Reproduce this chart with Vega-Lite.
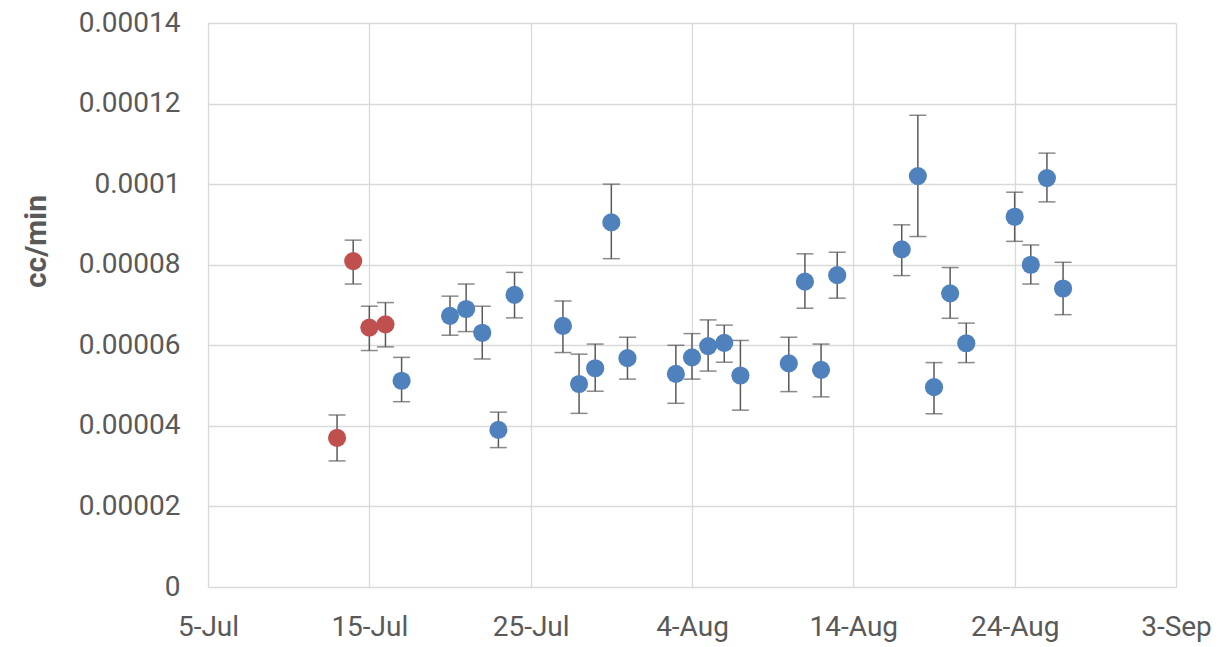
{
  "$schema": "https://vega.github.io/schema/vega-lite/v6.json",
  "width": 968,
  "height": 564,
  "autosize": "none",
  "padding": {"left": 208, "top": 23, "right": 45, "bottom": 60},
  "background": "white",
  "config": {
    "view": {"stroke": null},
    "font": "Roboto",
    "axis": {
      "labelFont": "Roboto",
      "labelFontSize": 28,
      "labelColor": "#595959",
      "gridColor": "#d9d9d9",
      "gridWidth": 1.3,
      "domain": false,
      "ticks": false
    }
  },
  "data": {
    "values": [
      {"date": "2023-07-13", "rate": 3.70e-5, "lo": 3.13e-5, "hi": 4.27e-5, "set": "A"},
      {"date": "2023-07-14", "rate": 8.09e-5, "lo": 7.52e-5, "hi": 8.61e-5, "set": "A"},
      {"date": "2023-07-15", "rate": 6.44e-5, "lo": 5.87e-5, "hi": 6.97e-5, "set": "A"},
      {"date": "2023-07-16", "rate": 6.52e-5, "lo": 5.96e-5, "hi": 7.06e-5, "set": "A"},
      {"date": "2023-07-17", "rate": 5.12e-5, "lo": 4.60e-5, "hi": 5.70e-5, "set": "B"},
      {"date": "2023-07-20", "rate": 6.73e-5, "lo": 6.25e-5, "hi": 7.22e-5, "set": "B"},
      {"date": "2023-07-21", "rate": 6.90e-5, "lo": 6.34e-5, "hi": 7.52e-5, "set": "B"},
      {"date": "2023-07-22", "rate": 6.31e-5, "lo": 5.66e-5, "hi": 6.97e-5, "set": "B"},
      {"date": "2023-07-23", "rate": 3.90e-5, "lo": 3.46e-5, "hi": 4.34e-5, "set": "B"},
      {"date": "2023-07-24", "rate": 7.25e-5, "lo": 6.68e-5, "hi": 7.81e-5, "set": "B"},
      {"date": "2023-07-27", "rate": 6.48e-5, "lo": 5.82e-5, "hi": 7.10e-5, "set": "B"},
      {"date": "2023-07-28", "rate": 5.04e-5, "lo": 4.31e-5, "hi": 5.78e-5, "set": "B"},
      {"date": "2023-07-29", "rate": 5.43e-5, "lo": 4.86e-5, "hi": 6.03e-5, "set": "B"},
      {"date": "2023-07-30", "rate": 9.05e-5, "lo": 8.15e-5, "hi": 10.00e-5, "set": "B"},
      {"date": "2023-07-31", "rate": 5.68e-5, "lo": 5.16e-5, "hi": 6.20e-5, "set": "B"},
      {"date": "2023-08-03", "rate": 5.29e-5, "lo": 4.56e-5, "hi": 6.00e-5, "set": "B"},
      {"date": "2023-08-04", "rate": 5.70e-5, "lo": 5.16e-5, "hi": 6.29e-5, "set": "B"},
      {"date": "2023-08-05", "rate": 5.98e-5, "lo": 5.36e-5, "hi": 6.63e-5, "set": "B"},
      {"date": "2023-08-06", "rate": 6.06e-5, "lo": 5.58e-5, "hi": 6.50e-5, "set": "B"},
      {"date": "2023-08-07", "rate": 5.25e-5, "lo": 4.39e-5, "hi": 6.12e-5, "set": "B"},
      {"date": "2023-08-10", "rate": 5.55e-5, "lo": 4.85e-5, "hi": 6.20e-5, "set": "B"},
      {"date": "2023-08-11", "rate": 7.58e-5, "lo": 6.92e-5, "hi": 8.27e-5, "set": "B"},
      {"date": "2023-08-12", "rate": 5.39e-5, "lo": 4.72e-5, "hi": 6.03e-5, "set": "B"},
      {"date": "2023-08-13", "rate": 7.74e-5, "lo": 7.17e-5, "hi": 8.31e-5, "set": "B"},
      {"date": "2023-08-17", "rate": 8.38e-5, "lo": 7.73e-5, "hi": 8.99e-5, "set": "B"},
      {"date": "2023-08-18", "rate": 10.20e-5, "lo": 8.70e-5, "hi": 11.71e-5, "set": "B"},
      {"date": "2023-08-19", "rate": 4.96e-5, "lo": 4.30e-5, "hi": 5.57e-5, "set": "B"},
      {"date": "2023-08-20", "rate": 7.29e-5, "lo": 6.67e-5, "hi": 7.93e-5, "set": "B"},
      {"date": "2023-08-21", "rate": 6.05e-5, "lo": 5.57e-5, "hi": 6.55e-5, "set": "B"},
      {"date": "2023-08-24", "rate": 9.19e-5, "lo": 8.58e-5, "hi": 9.80e-5, "set": "B"},
      {"date": "2023-08-25", "rate": 8.00e-5, "lo": 7.52e-5, "hi": 8.49e-5, "set": "B"},
      {"date": "2023-08-26", "rate": 10.15e-5, "lo": 9.56e-5, "hi": 10.77e-5, "set": "B"},
      {"date": "2023-08-27", "rate": 7.41e-5, "lo": 6.76e-5, "hi": 8.06e-5, "set": "B"}
    ]
  },
  "encoding": {
    "x": {
      "field": "date",
      "type": "temporal",
      "title": null,
      "scale": {
        "type": "utc",
        "domain": [
          {"year": 2023, "month": 7, "date": 5, "utc": true},
          {"year": 2023, "month": 9, "date": 3, "utc": true}
        ]
      },
      "axis": {
        "labelExpr": "utcFormat(datum.value, '%-d-%b')",
        "labelPadding": 26,
        "labelFlush": false,
        "labelOverlap": false,
        "values": [
          {"year": 2023, "month": 7, "date": 5, "utc": true},
          {"year": 2023, "month": 7, "date": 15, "utc": true},
          {"year": 2023, "month": 7, "date": 25, "utc": true},
          {"year": 2023, "month": 8, "date": 4, "utc": true},
          {"year": 2023, "month": 8, "date": 14, "utc": true},
          {"year": 2023, "month": 8, "date": 24, "utc": true},
          {"year": 2023, "month": 9, "date": 3, "utc": true}
        ]
      }
    }
  },
  "layer": [
    {
      "mark": {"type": "rule", "color": "#595959", "strokeWidth": 1.5},
      "encoding": {
        "y": {
          "field": "lo",
          "type": "quantitative",
          "title": "cc/min",
          "scale": {"domain": [0, 0.00014], "nice": false},
          "axis": {
            "values": [0, 0.00002, 0.00004, 0.00006, 0.00008, 0.0001, 0.00012, 0.00014],
            "format": "~g",
            "labelPadding": 28,
            "labelFlush": false,
            "labelOverlap": false,
            "titleFont": "Roboto",
            "titleFontSize": 30,
            "titleFontWeight": "bold",
            "titleColor": "#595959",
            "titleAngle": -90,
            "titleAlign": "center",
            "titleBaseline": "bottom",
            "titleX": -157,
            "titleY": 218
          }
        },
        "y2": {"field": "hi"}
      }
    },
    {
      "mark": {"type": "tick", "orient": "horizontal", "color": "#595959", "size": 17, "thickness": 1.5},
      "encoding": {"y": {"field": "lo", "type": "quantitative"}}
    },
    {
      "mark": {"type": "tick", "orient": "horizontal", "color": "#595959", "size": 17, "thickness": 1.5},
      "encoding": {"y": {"field": "hi", "type": "quantitative"}}
    },
    {
      "mark": {"type": "circle", "size": 330, "opacity": 1},
      "encoding": {
        "y": {"field": "rate", "type": "quantitative"},
        "color": {
          "field": "set",
          "type": "nominal",
          "scale": {"domain": ["A", "B"], "range": ["#c0504d", "#4f81bd"]},
          "legend": null
        }
      }
    }
  ]
}
